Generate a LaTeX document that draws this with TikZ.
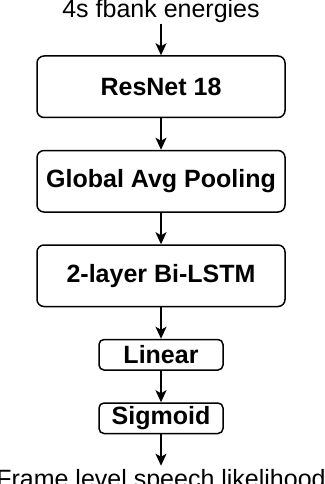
\documentclass[tikz,border=0pt]{standalone}
\usepackage{fontspec}
\setmainfont{Liberation Sans}
\usepackage{tikz}
\usetikzlibrary{positioning,arrows.meta}

\begin{document}
\begin{tikzpicture}[x=1pt,y=1pt,node distance=31.5pt,line width=1.5pt,
  font=\fontsize{25}{30}\selectfont,
  box/.style={draw,rounded corners=7pt,minimum height=61.5pt,minimum width=248pt,
    font=\fontsize{25}{30}\selectfont\bfseries},
  smallbox/.style={box,rounded corners=5pt,inner ysep=2pt,minimum height=30.5pt,minimum width=124pt},
  lbl/.style={inner sep=0pt}]
\useasboundingbox (0,0) rectangle (324,-484);
\node[box] (res) at (161,-86.75) {ResNet 18};
\node[lbl,above=of res,outer ysep=1.2pt] (in) {4s fbank energies};
\node[box,below=of res] (pool) {Global Avg Pooling};
\node[box,below=of pool] (lstm) {2-layer Bi-LSTM};
\node[smallbox,below=of lstm] (lin) {Linear};
\node[smallbox,below=of lin] (sig) {Sigmoid};
\node[lbl,below=of sig,outer ysep=4pt] (out) {Frame level speech likelihood};
\draw[-{Stealth[length=12pt,width=11pt,inset=3pt]}] (in)--(res);
\draw[-{Stealth[length=12pt,width=11pt,inset=3pt]}] (res)--(pool);
\draw[-{Stealth[length=12pt,width=11pt,inset=3pt]}] (pool)--(lstm);
\draw[-{Stealth[length=12pt,width=11pt,inset=3pt]}] (lstm)--(lin);
\draw[-{Stealth[length=12pt,width=11pt,inset=3pt]}] (lin)--(sig);
\draw[-{Stealth[length=12pt,width=11pt,inset=3pt]}] (sig)--(out);
\end{tikzpicture}
\end{document}
